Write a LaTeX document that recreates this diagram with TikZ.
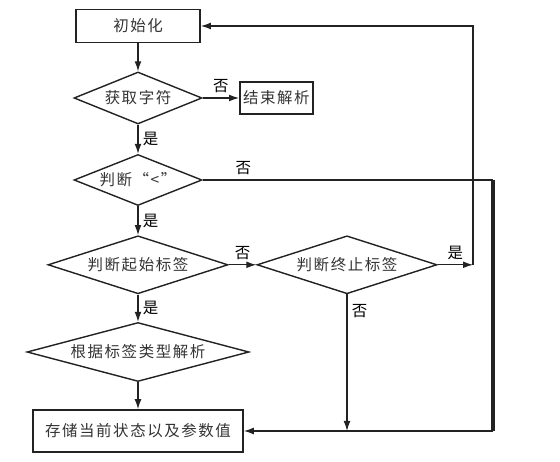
\documentclass[tikz,border=0pt]{standalone}
\usepackage{fontspec}
\newfontfamily\cjk[LetterSpace=10]{Noto Sans CJK SC}
\usetikzlibrary{shapes.geometric,arrows.meta}

\begin{document}
\begin{tikzpicture}[
    font=\cjk\fontsize{11}{13}\selectfont,
    procBox/.style={draw=lineColour, line width=1.2pt, rectangle, inner sep=0pt},
    testBox/.style={draw=lineColour, line width=1pt, diamond, inner sep=0pt},
    flow/.style={draw=lineColour, line width=0.8pt, -{Latex[length=2.5mm,width=1.7mm]}},
    plain/.style={draw=lineColour, line width=0.8pt},
    tag/.style={font=\cjk\fontsize{11}{13}\selectfont, inner sep=3pt}
]
    \definecolor{lineColour}{HTML}{222222}
    \definecolor{textColour}{HTML}{333333}

    \useasboundingbox (0,0) rectangle (14,11.55);

    % Main column
    \node[procBox, text=textColour, minimum width=3.1cm, minimum height=0.825cm] (init) at (3.45,10.9) {初始化};
    \node[testBox, text=textColour, minimum width=3.2cm, minimum height=1.3cm, aspect=2.46] (getChar) at (3.45,9.1) {获取字符};
    \node[procBox, text=textColour, minimum width=1.825cm, minimum height=0.8cm] (endParse) at (6.91,9.1) {结束解析};
    \node[testBox, text=textColour, minimum width=3.2cm, minimum height=1.275cm, aspect=2.5] (isLt) at (3.45,7.05) {判断“<”};
    \node[testBox, text=textColour, minimum width=4.5cm, minimum height=1.45cm, aspect=3.1] (isStart) at (3.45,4.93) {判断起始标签};
    \node[testBox, text=textColour, minimum width=4.5cm, minimum height=1.45cm, aspect=3.1] (isStop) at (8.675,4.93) {判断终止标签};
    \node[testBox, text=textColour, minimum width=5.55cm, minimum height=1.475cm, aspect=3.76] (parseTag) at (3.45,2.75) {根据标签类型解析};
    \node[procBox, text=textColour, minimum width=5.25cm, minimum height=1.05cm] (store) at (3.45,0.775) {存储当前状态以及参数值};

    % Turning points on the right
    \coordinate (loopRight) at (11.825,4.93);
    \coordinate (sideTop) at (12.325,7.05);
    \coordinate (sideBottom) at (12.325,0.775);

    % Connectors
    \draw[flow] (init) -- (getChar);
    \draw[flow] (getChar) -- node[tag, above] {否} (endParse);
    \draw[flow] (getChar) -- node[tag, right] {是} (isLt);
    \draw[flow] (isLt) -- node[tag, right] {是} (isStart);
    \draw[flow] (isStart) -- node[tag, above] {否} (isStop);
    \draw[flow] (isStart) -- node[tag, right] {是} (parseTag);
    \draw[flow] (parseTag) -- (store);
    \draw[flow] (isStop.east) -- node[tag, above] {是} (loopRight);
    \draw[flow] (loopRight) -- (loopRight |- init.east) -- (init.east);
    \draw[plain] (isLt.east) -- node[tag, above, pos=0.14] {否} (sideTop);
    \draw[draw=lineColour, line width=2.4pt] (sideTop) -- (sideBottom);
    \draw[flow] (sideBottom) -- (store.east);
    \draw[flow] (isStop.south) -- node[tag, right, pos=0.12] {否} (isStop.south |- store.east);

\end{tikzpicture}
\end{document}
